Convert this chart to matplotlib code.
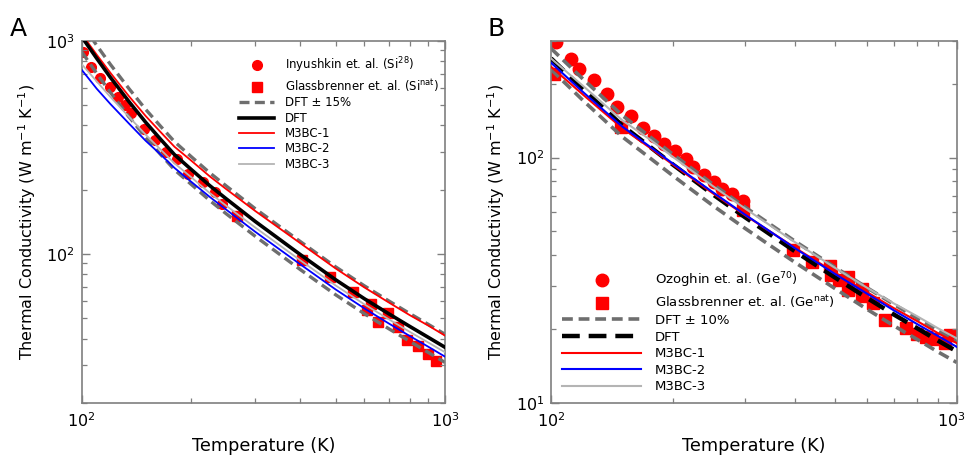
import matplotlib
matplotlib.use("Agg")
import matplotlib.pyplot as plt
from matplotlib.ticker import LogLocator, NullFormatter

plt.rcParams['font.family'] = ['DejaVu Sans']
plt.rcParams['mathtext.default'] = 'regular'

# ---------------- Panel A : Si ----------------
T_si = [100, 110, 120, 135, 150, 165, 180, 200, 225, 250, 300, 400, 500, 600, 700, 800, 900, 1000]
si_dft = [1043, 826, 672, 517, 414, 344, 292, 249, 209, 181, 142, 99, 75.5, 61.5, 52.3, 45.6, 40.5, 36.4]
si_dft_up = [1199, 950, 773, 595, 476, 396, 336, 286, 240, 208, 163, 114, 86.8, 70.7, 60.1, 52.4, 46.6, 41.9]
si_dft_lo = [887, 702, 571, 439, 352, 292, 248, 212, 178, 154, 121, 84.2, 64.2, 52.3, 44.5, 38.8, 34.4, 30.9]
si_m1 = [1074, 859, 706, 548, 443, 372, 318, 274, 231, 201, 159, 112, 85.3, 69.5, 59.1, 51.5, 46.0, 41.3]
si_m2 = [730, 595, 504, 408, 339, 292, 253, 218, 185, 161, 127, 89.1, 68.0, 55.4, 47.1, 41.1, 36.6, 32.9]
si_m3 = [776, 644, 544, 439, 362, 308, 266, 229, 193, 168, 133, 93.1, 71.0, 57.9, 49.3, 43.0, 38.3, 34.5]

si_inyu_T = [100.8, 106.3, 112.1, 119.4, 125.9, 131.3, 136.9, 148.4, 158.8, 170.3, 182.9, 196, 215.8, 232.2, 243.5, 268.3]
si_inyu_k = [888, 755, 666, 608, 546, 499, 456, 387, 341, 301, 278, 236, 217, 194, 172, 149]
si_glass_T = [268, 403, 483, 557, 609, 625, 655, 698, 744, 785, 841, 900, 943]
si_glass_k = [150, 93, 77.6, 66, 54.2, 57.8, 47.8, 52.6, 45.2, 39.4, 37.1, 33.9, 31.5]

# ---------------- Panel B : Ge ----------------
T_ge = [100, 120, 150, 175, 200, 250, 300, 400, 500, 600, 700, 800, 900, 1000]
ge_dft = [254, 190, 135, 111, 93.5, 71, 57.3, 41.4, 32.5, 26.8, 22.9, 20.1, 17.9, 16.2]
ge_dft_up = [279, 209, 148.5, 122, 103, 78.1, 63.0, 45.5, 35.8, 29.5, 25.2, 22.1, 19.7, 17.8]
ge_dft_lo = [229, 171, 121.5, 99.9, 84.2, 63.9, 51.6, 37.3, 29.3, 24.1, 20.6, 18.1, 16.1, 14.6]
ge_m1 = [235, 180.5, 131.6, 109.9, 93.5, 71.7, 58.4, 42.8, 34.0, 28.3, 24.3, 21.5, 19.2, 17.5]
ge_m2 = [244, 185, 133.7, 111, 94.4, 72.4, 58.7, 42.6, 33.6, 27.9, 23.8, 20.9, 18.7, 16.9]
ge_m3 = [254, 196, 141.8, 118.8, 100.5, 76.7, 62.2, 45.1, 35.6, 29.5, 25.4, 22.5, 20.1, 18.3]

ge_ozo_T = [102.9, 111.8, 117, 127.8, 137.1, 145.8, 157.1, 168.9, 179.4, 190, 202, 214.7, 224, 238.5, 252.6, 264, 279.5, 296.6]
ge_ozo_k = [296, 253, 229, 208, 182, 161, 148, 132, 122, 114, 106, 99, 91.5, 85.3, 79.6, 74.8, 70.9, 66.5]
ge_glass_T = [102, 149, 298, 396, 439, 487, 491, 512, 541, 541, 584, 584, 623, 666, 750, 797, 838, 870, 936, 963]
ge_glass_k = [220, 133, 61, 41.8, 37.5, 36, 33.1, 31.8, 32.6, 28.8, 29.2, 27.3, 25.4, 21.7, 20.1, 19.0, 18.5, 18.2, 17.6, 18.9]

x_ticks = [100, 1000]
x_tick_labels = ['$10^{2}$', '$10^{3}$']

RED = '#ff0000'
BLUE = '#0000ff'
LGRAY = '#b4b4b4'
DGRAY = '#6e6e6e'
SPINE = '#7f7f7f'

fig = plt.figure(figsize=(9.69, 4.59), dpi=100)
axA = fig.add_axes([0.0843, 0.1227, 0.3749, 0.7887])
axB = fig.add_axes([0.5686, 0.1227, 0.4187, 0.7887])


def style(ax, ylim, last_shift):
    ax.set_xscale('log')
    ax.set_yscale('log')
    ax.set_xlim(100, 1000)
    ax.set_ylim(*ylim)
    for s in ax.spines.values():
        s.set_color(SPINE)
        s.set_linewidth(1.2)
    ax.tick_params(which='both', direction='in', top=True, right=True, color=SPINE)
    ax.tick_params(which='major', length=6, width=1.0, labelsize=11.5, pad=5)
    ax.tick_params(which='minor', length=3.5, width=0.9)
    ax.xaxis.set_major_locator(LogLocator(base=10))
    ax.yaxis.set_major_locator(LogLocator(base=10))
    ax.xaxis.set_minor_locator(LogLocator(base=10, subs=range(2, 10)))
    ax.yaxis.set_minor_locator(LogLocator(base=10, subs=range(2, 10)))
    ax.xaxis.set_minor_formatter(NullFormatter())
    ax.yaxis.set_minor_formatter(NullFormatter())
    ax.tick_params(axis='x', which='both', labelbottom=False)
    # x tick labels drawn as text at the tick positions
    for i, (v, lab) in enumerate(zip(x_ticks, x_tick_labels)):
        dx = last_shift if i == len(x_ticks) - 1 else 0
        ax.annotate(lab, xy=(v, 0), xycoords=('data', 'axes fraction'),
                    xytext=(dx, -6), textcoords='offset points',
                    ha='center', va='top', fontsize=11.5, annotation_clip=False)
    ax.set_xlabel('Temperature (K)', fontsize=12.7, labelpad=25)
    ax.set_ylabel('Thermal Conductivity (W m$^{-1}$ K$^{-1}$)', fontsize=11.5, labelpad=6)


# Panel A
style(axA, (20, 1000), 0)
axA.plot(si_inyu_T, si_inyu_k, 'o', color=RED, ms=7, mec=RED, zorder=1,
         label='Inyushkin et. al. (Si$^{28}$)')
axA.plot(si_glass_T, si_glass_k, 's', color=RED, ms=7, mec=RED, zorder=1,
         label='Glassbrenner et. al. (Si$^{nat}$)')
axA.plot(T_si, si_dft_up, '--', color=DGRAY, lw=2.4, dashes=(3, 1.6), zorder=2, label='DFT ± 15%')
axA.plot(T_si, si_dft_lo, '--', color=DGRAY, lw=2.4, dashes=(3, 1.6), zorder=2)
axA.plot(T_si, si_dft, '-', color='black', lw=2.6, zorder=4, label='DFT')
axA.plot(T_si, si_m1, '-', color=RED, lw=1.3, zorder=3, label='M3BC-1')
axA.plot(T_si, si_m2, '-', color=BLUE, lw=1.3, zorder=3, label='M3BC-2')
axA.plot(T_si, si_m3, '-', color=LGRAY, lw=1.3, zorder=3, label='M3BC-3')
axA.legend(loc='upper left', bbox_to_anchor=(0.41, 0.982), frameon=False, fontsize=8.5,
           handlelength=3.0, handletextpad=0.9, labelspacing=0.2, borderpad=0.2)

# Panel B
style(axB, (10, 300), -4)
axB.plot(ge_ozo_T, ge_ozo_k, 'o', color=RED, ms=9, mec=RED, zorder=1,
         label='Ozoghin et. al. (Ge$^{70}$)')
axB.plot(ge_glass_T, ge_glass_k, 's', color=RED, ms=8, mec=RED, zorder=1,
         label='Glassbrenner et. al. (Ge$^{nat}$)')
axB.plot(T_ge, ge_dft_up, '--', color=DGRAY, lw=2.6, dashes=(3, 1.6), zorder=2, label='DFT ± 10%')
axB.plot(T_ge, ge_dft_lo, '--', color=DGRAY, lw=2.6, dashes=(3, 1.6), zorder=2)
axB.plot(T_ge, ge_dft, '--', color='black', lw=3.2, dashes=(4, 2), zorder=3, label='DFT')
axB.plot(T_ge, ge_m1, '-', color=RED, lw=1.5, zorder=4, label='M3BC-1')
axB.plot(T_ge, ge_m2, '-', color=BLUE, lw=1.5, zorder=4, label='M3BC-2')
axB.plot(T_ge, ge_m3, '-', color=LGRAY, lw=1.5, zorder=4, label='M3BC-3')
axB.legend(loc='upper left', bbox_to_anchor=(0.005, 0.39), frameon=False, fontsize=9.5,
           handlelength=6.0, handletextpad=1.0, labelspacing=0.27, borderpad=0.2)

fig.text(0.010, 0.962, 'A', fontsize=18, va='top', ha='left')
fig.text(0.503, 0.962, 'B', fontsize=18, va='top', ha='left')

fig.savefig('out.png', dpi=100)
